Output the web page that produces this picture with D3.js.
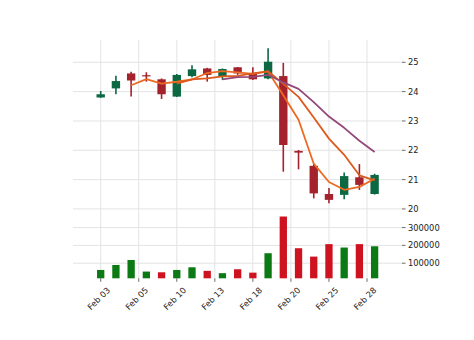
<!DOCTYPE html>
<html><head><meta charset="utf-8">
<script src="https://cdn.jsdelivr.net/npm/d3@7"></script>
<style>
body{margin:0;background:#fff}
svg{display:block}
text{font-family:"DejaVu Sans",sans-serif;font-size:8.3px;fill:#222}
</style>
</head><body>
<svg id="c" width="474" height="340"></svg>
<script>
// ---- data ----
const dates = ["Feb 03","Feb 04","Feb 05","Feb 06","Feb 07","Feb 10","Feb 11","Feb 12","Feb 13","Feb 14",
               "Feb 18","Feb 19","Feb 20","Feb 21","Feb 24","Feb 25","Feb 26","Feb 27","Feb 28"];
const opens  = [23.80,24.11,24.62,24.56,24.42,23.83,24.53,24.79,24.51,24.83,24.62,24.45,24.53,21.98,21.47,20.51,20.48,21.08,20.51];
const highs  = [24.02,24.54,24.68,24.66,24.45,24.60,24.90,24.81,24.79,24.84,24.83,25.48,24.98,22.01,21.53,20.71,21.24,21.53,21.20];
const lows   = [23.79,23.91,23.83,24.34,23.75,23.82,24.49,24.34,24.40,24.57,24.40,24.42,21.27,21.35,20.36,20.19,20.33,20.65,20.49];
const closes = [23.91,24.36,24.38,24.53,23.91,24.57,24.76,24.57,24.77,24.62,24.42,25.02,22.18,21.92,20.53,20.31,21.12,20.82,21.16];
const volumes = [62000,90000,118000,53000,49000,62000,77000,57000,44000,66000,47000,156000,362000,184000,137000,207000,188000,207000,195000];
const mavPeriods = [3,6,9];
const tickIdx = [0,2.5,5,7.5,10,12.5,15,17.5];
const tickLabels = ["Feb 03","Feb 05","Feb 10","Feb 13","Feb 18","Feb 20","Feb 25","Feb 28"];
const priceTicks = [20,21,22,23,24,25];
const volTicks = [100000,200000,300000];

// ---- styles ----
const upCandle = "#0b6843", downCandle = "#a3222b";
const upVol = "#0c7a14", downVol = "#cf1220";
const mavColors = ["#ec6a22","#dc5a1e","#93497a"];
const gridColor = "#e3e3e3";

const svg = d3.select("#c");
const L = 73, R = 402, T = 40, PB = 211, VB = 278.3;

const x = d3.scaleLinear().domain([-1.82, 19.8]).range([L, R]);
const yP = d3.scaleLinear().domain([19.93, 25.76]).range([PB, T]);
const yV = d3.scaleLinear().domain([15200, 393000]).range([VB, PB]);

const idx = d3.range(dates.length);

// grid
const g = svg.append("g");
g.selectAll(".vg").data(tickIdx).join("line")
  .attr("x1", d => x(d)).attr("x2", d => x(d)).attr("y1", T).attr("y2", VB)
  .attr("stroke", gridColor).attr("stroke-width", 1);
g.selectAll(".hp").data(priceTicks).join("line")
  .attr("x1", L).attr("x2", R).attr("y1", d => yP(d)).attr("y2", d => yP(d))
  .attr("stroke", gridColor).attr("stroke-width", 1);
g.selectAll(".hv").data(volTicks).join("line")
  .attr("x1", L).attr("x2", R).attr("y1", d => yV(d)).attr("y2", d => yV(d))
  .attr("stroke", gridColor).attr("stroke-width", 1);

// volume
const bw = 0.48 * (x(1) - x(0));
svg.append("g").selectAll("rect").data(idx).join("rect")
  .attr("x", i => x(i) - bw / 2).attr("width", bw)
  .attr("y", i => yV(volumes[i])).attr("height", i => VB - yV(volumes[i]))
  .attr("fill", i => (i === 0 || closes[i] >= closes[i - 1]) ? upVol : downVol);

// candles
const cw = 0.55 * (x(1) - x(0));
const cg = svg.append("g");
cg.selectAll("line").data(idx).join("line")
  .attr("x1", i => x(i)).attr("x2", i => x(i))
  .attr("y1", i => yP(highs[i])).attr("y2", i => yP(lows[i]))
  .attr("stroke", i => closes[i] >= opens[i] ? upCandle : downCandle)
  .attr("stroke-width", 1.6);
cg.selectAll("rect").data(idx).join("rect")
  .attr("x", i => x(i) - cw / 2).attr("width", cw)
  .attr("y", i => yP(Math.max(opens[i], closes[i])))
  .attr("height", i => Math.max(1.2, Math.abs(yP(opens[i]) - yP(closes[i]))))
  .attr("fill", i => closes[i] >= opens[i] ? upCandle : downCandle);

// moving averages
mavPeriods.forEach((p, k) => {
  const pts = idx.filter(i => i >= p - 1).map(i => [i, d3.mean(closes.slice(i - p + 1, i + 1))]);
  svg.append("path").datum(pts)
    .attr("d", d3.line().x(d => x(d[0])).y(d => yP(d[1])))
    .attr("fill", "none").attr("stroke", mavColors[k]).attr("stroke-width", 1.8)
    .attr("stroke-linejoin", "round");
});

// right axes
const ra = svg.append("g");
function rightAxis(ticks, scale, fmt) {
  ra.selectAll(null).data(ticks).join("line")
    .attr("x1", R).attr("x2", R + 3.5).attr("y1", d => scale(d)).attr("y2", d => scale(d))
    .attr("stroke", "#444").attr("stroke-width", 0.8);
  ra.selectAll(null).data(ticks).join("text")
    .attr("x", R + 6).attr("y", d => scale(d)).attr("dominant-baseline", "central")
    .text(fmt);
}
rightAxis(priceTicks, yP, d => d3.format("d")(d));
rightAxis(volTicks, yV, d => d3.format("d")(d));

// bottom axis
const ba = svg.append("g");
ba.selectAll("line").data(tickIdx).join("line")
  .attr("x1", d => x(d)).attr("x2", d => x(d)).attr("y1", VB).attr("y2", VB + 3.5)
  .attr("stroke", "#444").attr("stroke-width", 0.8);
ba.selectAll("text").data(tickIdx).join("text")
  .attr("transform", d => `translate(${x(d) - 2},${298.5}) rotate(-45)`)
  .attr("text-anchor", "middle").attr("dominant-baseline", "central")
  .text((d, i) => tickLabels[i]);
</script>
</body></html>
